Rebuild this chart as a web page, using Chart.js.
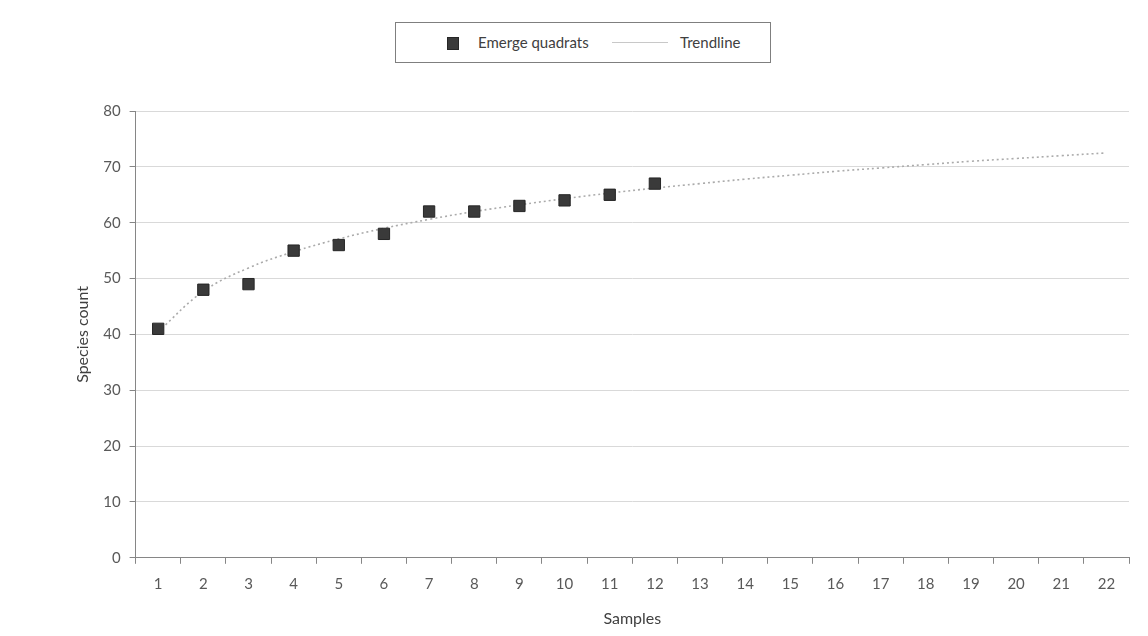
<!DOCTYPE html>
<html>
<head>
<meta charset="utf-8">
<script src="https://cdn.jsdelivr.net/npm/chart.js@4"></script>
<style>
  body { margin: 0; background: #fff; }
  #wrap { width: 1148px; height: 636px; position: relative; }
  #legend {
    position: absolute; left: 395px; top: 22px; width: 374px; height: 39px;
    border: 1px solid #7f7f7f; background: #fff;
    font-family: Lato, 'Open Sans', sans-serif; font-size: 15px; color: #404040;
  }
  #legend .item { position: absolute; top: 0; height: 39px; line-height: 39px; white-space: nowrap; }
  #legend .sq { position: absolute; width: 10px; height: 11px; background: #3a3a3a; border: 1px solid #262626; top: 14px; }
  #legend .ln { position: absolute; width: 56px; border-top: 1px solid #c8c8c8; top: 19px; }
</style>
</head>
<body>
<div id="wrap">
  <canvas id="speciesChart"></canvas>
  <div id="legend"></div>
</div>
<script>
var sampleLabels = ['1','2','3','4','5','6','7','8','9','10','11','12','13','14','15','16','17','18','19','20','21','22'];
var quadratCounts = [41, 48, 49, 55, 56, 58, 62, 62, 63, 64, 65, 67];
var trendValues = [40.5, 47.7, 51.9, 54.8, 57.1, 59.0, 60.6, 62.0, 63.2, 64.3, 65.3, 66.2,
                   67.0, 67.8, 68.5, 69.2, 69.8, 70.4, 71.0, 71.5, 72.0, 72.5];
var yTicks = [0, 10, 20, 30, 40, 50, 60, 70, 80];
var seriesNames = ['Emerge quadrats', 'Trendline'];

var fontFam = "Lato, 'Open Sans', sans-serif";

const config = {
  type: 'line',
  data: {
    labels: sampleLabels,
    datasets: [
      {
        label: seriesNames[0],
        data: quadratCounts,
        showLine: false,
        pointStyle: 'rect',
        pointRadius: 8,
        pointBackgroundColor: '#3a3a3a',
        pointBorderColor: '#262626',
        pointBorderWidth: 1,
        order: 1
      },
      {
        label: seriesNames[1],
        data: trendValues,
        borderColor: '#ababab',
        borderWidth: 1.6,
        borderDash: [2, 3],
        pointRadius: 0,
        tension: 0.4,
        fill: false,
        order: 2
      }
    ]
  },
  options: {
    responsive: true,
    maintainAspectRatio: false,
    animation: false,
    layout: {
      padding: { top: 111, left: 69, right: 19, bottom: 8 }
    },
    plugins: {
      legend: { display: false },
      tooltip: { enabled: false },
      title: { display: false }
    },
    scales: {
      x: {
        offset: true,
        grid: {
          offset: true,
          drawOnChartArea: false,
          drawTicks: true,
          tickLength: 6,
          color: '#868686'
        },
        border: { color: '#868686', width: 1 },
        ticks: {
          color: '#595959',
          font: { family: fontFam, size: 15 },
          padding: 11,
          maxRotation: 0,
          autoSkip: false
        },
        title: {
          display: true,
          text: 'Samples',
          color: '#404040',
          font: { family: fontFam, size: 16 },
          padding: { top: 5, bottom: 0 }
        }
      },
      y: {
        min: 0,
        max: 80,
        afterBuildTicks(axis) {
          axis.ticks = yTicks.map(v => ({ value: v }));
        },
        grid: {
          color: '#d9d9d9',
          lineWidth: 1,
          drawTicks: true,
          tickLength: 6,
          tickColor: '#868686'
        },
        border: { color: '#868686', width: 1 },
        ticks: {
          color: '#595959',
          font: { family: fontFam, size: 15 },
          padding: 9
        },
        title: {
          display: true,
          text: 'Species count',
          color: '#404040',
          font: { family: fontFam, size: 16 },
          padding: { top: 4, bottom: 2 }
        }
      }
    }
  }
};

new Chart(document.getElementById('speciesChart'), config);

// legend drawn as html so it gets the framed box of the original
var lg = document.getElementById('legend');
lg.innerHTML =
  '<span class="sq" style="left:51px"></span>' +
  '<span class="item" style="left:82px">' + seriesNames[0] + '</span>' +
  '<span class="ln" style="left:216px"></span>' +
  '<span class="item" style="left:284px">' + seriesNames[1] + '</span>';
</script>
</body>
</html>
